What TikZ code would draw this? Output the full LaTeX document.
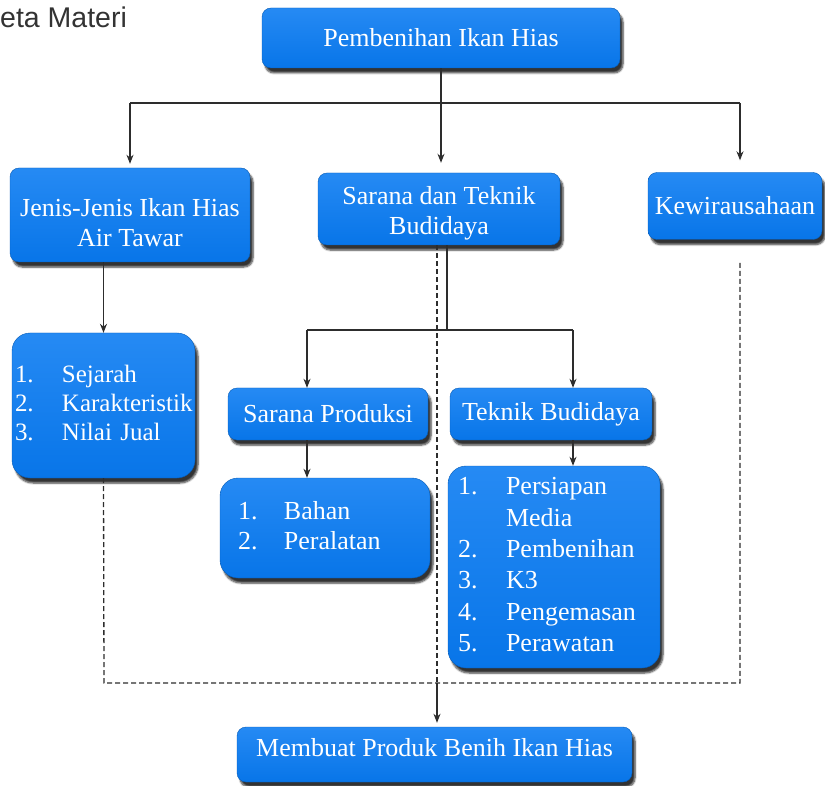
\documentclass[tikz,border=0pt]{standalone}
\usepackage{fontspec}
\setmainfont{Liberation Serif}
\newfontfamily\headfont{Liberation Sans}
\usetikzlibrary{arrows.meta,shadows.blur}

\definecolor{boxblue}{RGB}{8,122,242}
\definecolor{linegray}{RGB}{45,45,45}

\begin{document}
\begin{tikzpicture}[x=1pt, y=-1pt,
  box/.style={rounded corners=9pt, top color=boxblue!88!white, bottom color=boxblue!96!black,
    draw=boxblue!75!black, thin, text=white, align=center, inner sep=2pt,
    font=\fontsize{26}{30}\selectfont,
    blur shadow={shadow xshift=3pt, shadow yshift=-5pt, shadow blur steps=6, shadow opacity=80}},
  listbox/.style={box, rounded corners=18pt, align=left},
  arr/.style={-{Stealth[length=9pt,width=7pt]}, line width=1.2pt, draw=linegray},
  bus/.style={line width=1.2pt, draw=linegray},
  dashline/.style={line width=1.3pt, draw=linegray, dash pattern=on 5pt off 3pt}]

  \useasboundingbox (0,0) rectangle (825,786);

  % Title (cut at the left edge)
  \node[anchor=west, inner sep=0pt, font=\headfont\fontsize{28.5}{30}\selectfont, text=black!80] (title) at (0,17) {eta Materi};

  % Main boxes
  \node[box, minimum width=358pt, minimum height=60pt] (top) at (441,38) {Pembenihan Ikan Hias};
  \node[box, minimum width=240pt, minimum height=94pt] (jenis) at (130,215)
    {\rule{0pt}{34pt}Jenis-Jenis Ikan Hias\\Air Tawar};
  \node[box, minimum width=242pt, minimum height=72pt] (sarana) at (439,209)
    {\rule{0pt}{26pt}Sarana dan Teknik\\Budidaya};
  \node[box, minimum width=174pt, minimum height=67pt] (kewira) at (735,206) {Kewirausahaan};
  \node[box, minimum width=200pt, minimum height=52pt] (sprod) at (328,414) {Sarana Produksi};
  \node[box, minimum width=202pt, minimum height=52pt] (tbud) at (551,414) {Teknik Budidaya};
  \node[box, minimum width=395pt, minimum height=55pt] (membuat) at (434.5,754.5)
    {Membuat Produk Benih Ikan Hias\rule[-14pt]{0pt}{14pt}};

  % Lists
  \node[listbox, minimum height=145pt, text width=177pt, inner xsep=3pt, font=\fontsize{25}{29}\selectfont] (list1) at (103.5,405.5)
    {\begin{tabular}{@{}p{47pt}@{}l@{}}1. & Sejarah\\ 2. & Karakteristik\\ 3. & Nilai Jual\end{tabular}};
  \node[listbox, minimum height=100pt, text width=174pt, inner xsep=18pt] (list2) at (325,528)
    {\begin{tabular}{@{}p{46pt}@{}l@{}}1. & Bahan\\ 2. & Peralatan\end{tabular}};
  \node[listbox, minimum height=202pt, text width=192pt, inner xsep=10pt, font=\fontsize{26}{31.4}\selectfont] (list3) at (554,567)
    {\begin{tabular}{@{}p{48pt}@{}l@{}}1. & Persiapan\\ & Media\\ 2. & Pembenihan\\ 3. & K3\\ 4. & Pengemasan\\ 5. & Perawatan\end{tabular}};

  % Bus lines
  \coordinate (bus1) at (441,103);
  \coordinate (b2) at (447,330);
  \coordinate (b2l) at (307,330);
  \coordinate (b2r) at (573,330);
  \coordinate (dl) at (104,683);
  \coordinate (dr) at (740,683);
  \coordinate (dm) at (437,683);

  \draw[bus] (jenis.north |- bus1) -- (bus1) -- (bus1 -| dr);
  \draw[arr, shorten >=10pt] (top.south) -- (top.south |- sarana.north);
  \draw[arr, shorten >=4pt] (jenis.north |- bus1) -- (jenis.north);
  \draw[arr, shorten >=12pt] (bus1 -| dr) -- (kewira.north -| dr);
  \draw[arr] (list1.north |- jenis.south) -- (list1.north);

  \draw[bus] (b2 |- sarana.south) -- (b2);
  \draw[bus] (b2l) -- (b2r);
  \draw[arr] (b2l) -- (b2l |- sprod.north);
  \draw[arr] (b2r) -- (b2r |- tbud.north);
  \draw[arr] (b2l |- sprod.south) -- (b2l |- list2.north);
  \draw[arr] (b2r |- tbud.south) -- (b2r |- list3.north);

  % Dashed frame
  \draw[dashline] (list1.south) -- (dl) -- (dr) -- ([yshift=-22pt]kewira.south -| dr);
  \draw[dashline] (dm |- sarana.south) -- (dm);
  \draw[arr, shorten >=4pt] (dm) -- (dm |- membuat.north);
\end{tikzpicture}
\end{document}
